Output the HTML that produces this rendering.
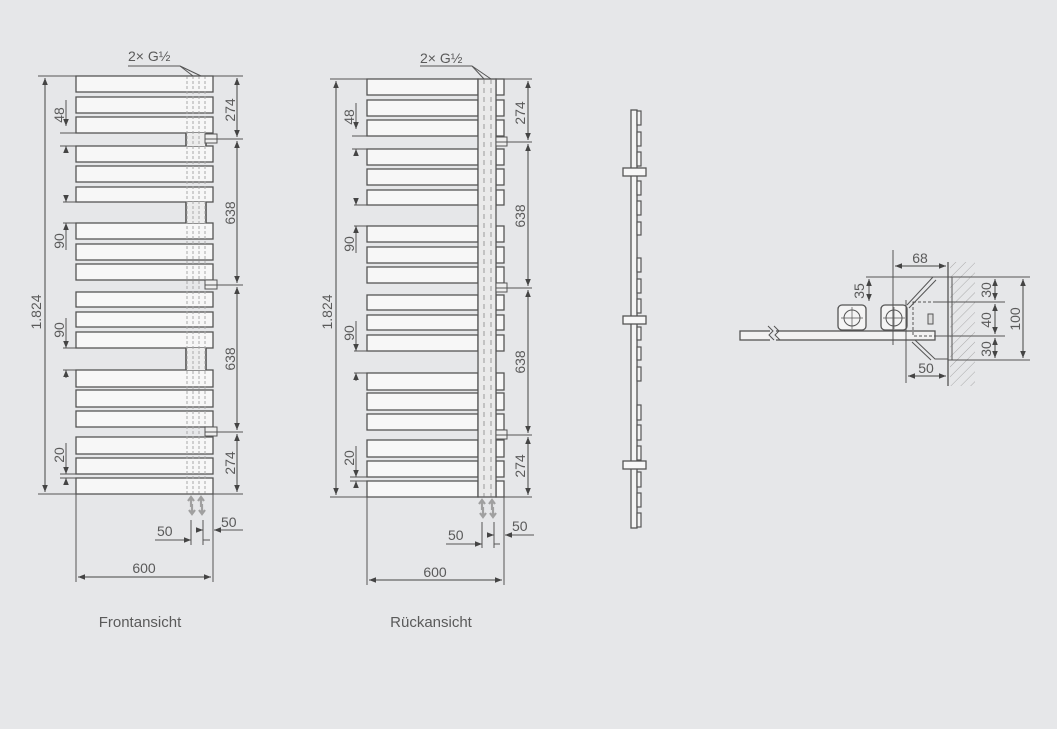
<!DOCTYPE html>
<html><head><meta charset="utf-8">
<style>
html,body{margin:0;padding:0;background:#e6e7e9;}
svg{display:block;}
text{font-family:"Liberation Sans",sans-serif;font-size:14px;fill:#5a5a5a;}
</style></head>
<body>
<svg id="s" width="1057" height="729" viewBox="0 0 1057 729" xmlns="http://www.w3.org/2000/svg">
<defs>
<marker id="a" viewBox="0 0 10 10" refX="10" refY="5" markerWidth="7" markerHeight="7" orient="auto-start-reverse"><path d="M0,1 L10,5 L0,9z" fill="#444"/></marker>
<pattern id="h" width="7" height="7" patternUnits="userSpaceOnUse" patternTransform="rotate(45)"><line x1="0" y1="0" x2="0" y2="7" stroke="#aaa" stroke-width="1"/></pattern>
</defs>
<g id="g" stroke="#555" fill="none" stroke-width="1"></g>

<text x="128" y="61">2× G½</text>
<text transform="translate(41,312) rotate(-90)" text-anchor="middle">1.824</text>
<text transform="translate(64,115) rotate(-90)" text-anchor="middle">48</text>
<text transform="translate(64,241) rotate(-90)" text-anchor="middle">90</text>
<text transform="translate(64,330) rotate(-90)" text-anchor="middle">90</text>
<text transform="translate(64,455) rotate(-90)" text-anchor="middle">20</text>
<text transform="translate(235,110) rotate(-90)" text-anchor="middle">274</text>
<text transform="translate(235,213) rotate(-90)" text-anchor="middle">638</text>
<text transform="translate(235,359) rotate(-90)" text-anchor="middle">638</text>
<text transform="translate(235,463) rotate(-90)" text-anchor="middle">274</text>
<text x="157" y="536">50</text>
<text x="221" y="527">50</text>
<text x="144" y="573" text-anchor="middle">600</text>
<text x="140" y="627" text-anchor="middle" style="font-size:15px">Frontansicht</text>

<text x="420" y="63">2× G½</text>
<text transform="translate(332,312) rotate(-90)" text-anchor="middle">1.824</text>
<text transform="translate(354,117) rotate(-90)" text-anchor="middle">48</text>
<text transform="translate(354,244) rotate(-90)" text-anchor="middle">90</text>
<text transform="translate(354,333) rotate(-90)" text-anchor="middle">90</text>
<text transform="translate(354,458) rotate(-90)" text-anchor="middle">20</text>
<text transform="translate(525,113) rotate(-90)" text-anchor="middle">274</text>
<text transform="translate(525,216) rotate(-90)" text-anchor="middle">638</text>
<text transform="translate(525,362) rotate(-90)" text-anchor="middle">638</text>
<text transform="translate(525,466) rotate(-90)" text-anchor="middle">274</text>
<text x="448" y="540">50</text>
<text x="512" y="531">50</text>
<text x="435" y="577" text-anchor="middle">600</text>
<text x="431" y="627" text-anchor="middle" style="font-size:15px">Rückansicht</text>

<text x="920" y="263" text-anchor="middle">68</text>
<text transform="translate(864,291) rotate(-90)" text-anchor="middle">35</text>
<text transform="translate(991,290) rotate(-90)" text-anchor="middle">30</text>
<text transform="translate(991,320) rotate(-90)" text-anchor="middle">40</text>
<text transform="translate(991,349) rotate(-90)" text-anchor="middle">30</text>
<text transform="translate(1020,319) rotate(-90)" text-anchor="middle">100</text>
<text x="926" y="373" text-anchor="middle">50</text>
</svg>
<script>
var g=document.getElementById('g'),NS='http://www.w3.org/2000/svg';
function e(t,a){var n=document.createElementNS(NS,t);for(var k in a)n.setAttribute(k,a[k]);g.appendChild(n);return n;}
function L(x1,y1,x2,y2,o){var a={x1:x1,y1:y1,x2:x2,y2:y2};for(var k in o)a[k]=o[k];return e('line',a);}
function R(x,y,w,h,o){var a={x:x,y:y,width:w,height:h};for(var k in o)a[k]=o[k];return e('rect',a);}
function D(x1,y1,x2,y2){return L(x1,y1,x2,y2,{'marker-start':'url(#a)','marker-end':'url(#a)',stroke:'#444'});}
var bars=[[76,92],[97,113],[117,133],[146,162],[166,182],[187,202],[223,239],[244,260],[264,280],[292,307],[312,327],[332,348],[370,387],[390,407],[411,427],[437,454],[458,474],[478,494]];
var gaps=[[133,146],[202,223],[348,370]];
var brk=[139,285,432];
function heat(x,y){
 e('path',{d:'M'+x+','+(y+4)+' l3,-4 l3,4 M'+(x+3)+','+y+' v10 M'+(x+4)+','+(y+7)+' v10 M'+(x+1)+','+(y+13)+' l3,4 l3,-4',stroke:'#a0a0a0','stroke-width':2.2});}
(function(){var dy=0;
 bars.forEach(function(b){R(76,b[0]+dy,137,b[1]-b[0],{fill:'#f7f7f7','stroke-width':1.3});});
 gaps.forEach(function(b,i){L(i==0?60:63,b[0],186,b[0]);L(i==0?60:63,b[1],186,b[1]);R(186,b[0],20,b[1]-b[0],{fill:'#ececec',stroke:'none'});L(186,b[0],186,b[1],{'stroke-width':1.6});L(206,b[0],206,b[1],{'stroke-width':1.6});});
 [187,193,199,205].forEach(function(x){L(x,76,x,494,{stroke:'#aaa','stroke-dasharray':'3,2'});});
 brk.forEach(function(y){R(205,y-5,12,9,{fill:'#eee'});L(205,y,243,y);});
 L(38,76,243,76);L(38,494,243,494);
 D(45,78,45,492);
 D(237,78,237,137);D(237,141,237,283);D(237,287,237,430);D(237,434,237,492);
 L(66,100,66,126,{'marker-end':'url(#a)'});L(66,153,66,146,{'marker-end':'url(#a)'});L(60,133,72,133);L(60,146,72,146);
 L(66,196,66,202,{'marker-end':'url(#a)'});L(66,250,66,223,{'marker-end':'url(#a)'});
 L(66,318,66,348,{'marker-end':'url(#a)'});L(66,378,66,370,{'marker-end':'url(#a)'});
 L(66,443,66,474,{'marker-end':'url(#a)'});L(66,485,66,478,{'marker-end':'url(#a)'});L(60,474,76,474);L(60,478,76,478);
 L(128,66,180,66);L(180,66,193,76);L(180,66,201,76);
 heat(188,497);heat(198,497);
 L(76,494,76,582);L(213,494,213,582);D(78,577,211,577);
 L(191,520,191,545);L(203,520,203,545);L(155,540,191,540,{'marker-end':'url(#a)'});L(203,540,210,540);
 L(243,530,214,530,{'marker-end':'url(#a)'});L(200,530,203,530,{'marker-end':'url(#a)'});
})();
(function(){var dy=3;
 bars.forEach(function(b){R(367,b[0]+dy,111,b[1]-b[0],{fill:'#f7f7f7','stroke-width':1.3});R(496,b[0]+dy,8,b[1]-b[0],{fill:'#f7f7f7','stroke-width':1.3});});
 gaps.forEach(function(b,i){L(i==0?352:354,b[0]+dy,478,b[0]+dy);L(i==0?352:354,b[1]+dy,478,b[1]+dy);});
 R(478,79,18,418,{fill:'#eaeaea','stroke-width':1.3});
 [484,491].forEach(function(x){L(x,79,x,497,{stroke:'#999','stroke-dasharray':'5,4'});});
 brk.forEach(function(y){R(496,y-2,11,9,{fill:'#eee'});L(496,y+3,532,y+3);});
 L(330,79,532,79);L(330,497,532,497);
 D(336,81,336,495);
 D(528,81,528,140);D(528,144,528,286);D(528,290,528,433);D(528,437,528,495);
 L(356,103,356,129,{'marker-end':'url(#a)'});L(356,156,356,149,{'marker-end':'url(#a)'});
 L(356,199,356,205,{'marker-end':'url(#a)'});L(356,253,356,226,{'marker-end':'url(#a)'});
 L(356,321,356,351,{'marker-end':'url(#a)'});L(356,381,356,373,{'marker-end':'url(#a)'});
 L(356,446,356,477,{'marker-end':'url(#a)'});L(356,488,356,481,{'marker-end':'url(#a)'});L(350,477,367,477);L(350,481,367,481);
 L(420,66,472,66);L(472,66,484,79);L(472,66,491,79);
 heat(479,500);heat(489,500);
 L(367,497,367,585);L(504,497,504,585);D(369,580,502,580);
 L(482,522,482,548);L(494,522,494,548);L(446,544,482,544,{'marker-end':'url(#a)'});L(494,544,500,544);
 L(534,535,505,535,{'marker-end':'url(#a)'});L(490,535,494,535,{'marker-end':'url(#a)'});
})();
(function(){
 R(631,110,6,418,{fill:'#f4f4f4','stroke-width':1.3});
 bars.forEach(function(b){var y0=110+(b[0]-76),y1=110+(b[1]-76);R(637,y0+1,4,y1-y0-2,{fill:'#f4f4f4','stroke-width':1.2});});
 [172,320,465].forEach(function(y){R(623,y-4,23,8,{fill:'#f7f7f7','stroke-width':1.3});});
})();
(function(){
 R(950,262,25,124,{fill:'url(#h)',stroke:'none'});
 L(948,262,948,386,{'stroke-width':1.3});L(952,277,952,360);
 R(740,331,195,9,{fill:'#f2f2f2','stroke-width':1.3});
 R(770,330,6,11,{fill:'#e6e7e9',stroke:'none'});
 e('path',{d:'M768,326 l5,5 l-4,4 l5,5 M774,326 l5,5 l-4,4 l5,5',stroke:'#555',fill:'none'});
 R(838,305,28,25,{rx:4,fill:'#f4f4f4','stroke-width':1.3});
 R(881,305,26,25,{rx:4,fill:'#f4f4f4','stroke-width':1.3});
 e('circle',{cx:852,cy:318,r:8});e('circle',{cx:894,cy:318,r:8});
 L(852,307,852,329,{'stroke-width':0.7});L(841,318,863,318,{'stroke-width':0.7});
 L(894,307,894,329,{'stroke-width':0.7});L(883,318,905,318,{'stroke-width':0.7});
 e('path',{d:'M907,305 L933,277 L948,277 M909,308 L936,280',fill:'none'});
 e('path',{d:'M915,340 L935,359 L948,359 M912,342 L931,360'});
 R(913,302,35,34,{'stroke-dasharray':'3,2'});
 R(928,314,5,10,{fill:'#ddd'});
 L(893,250,893,345);L(906,300,906,383);
 D(895,266,946,266);
 L(866,277,935,277);L(869,279,869,301,{'marker-start':'url(#a)','marker-end':'url(#a)'});
 L(948,277,1030,277);L(948,360,1030,360);L(935,302,1005,302);L(935,336,1005,336);
 D(995,279,995,300);D(995,304,995,334);D(995,338,995,358);D(1023,279,1023,358);
 D(908,376,946,376);
})();
</script>
</body></html>
